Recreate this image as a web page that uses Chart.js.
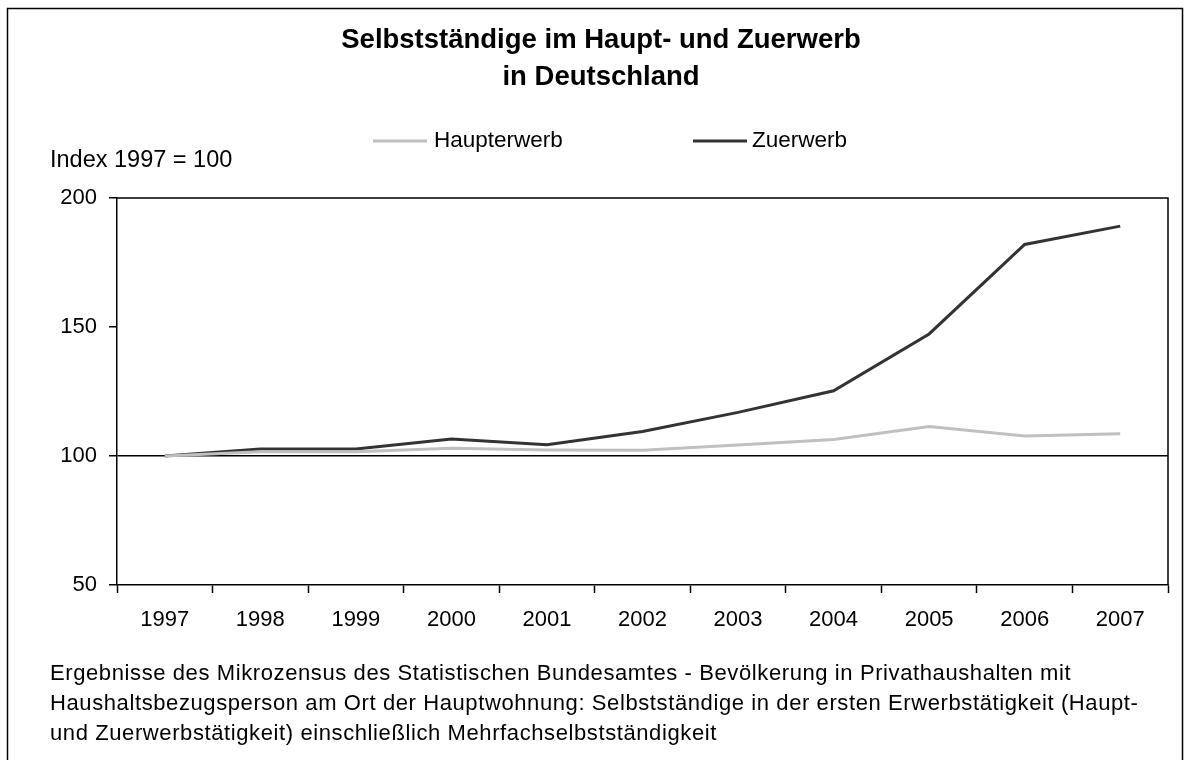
<!DOCTYPE html>
<html>
<head>
<meta charset="utf-8">
<script src="https://cdn.jsdelivr.net/npm/chart.js@4"></script>
<style>
html,body{margin:0;padding:0;background:#fff;}
#wrap{width:1190px;height:760px;}
</style>
</head>
<body>
<div id="wrap"><canvas id="c" width="1190" height="760"></canvas></div>
<script>
const years = ['1997','1998','1999','2000','2001','2002','2003','2004','2005','2006','2007'];
const haupterwerb = [100, 101.6, 101.6, 103.0, 102.3, 102.2, 104.3, 106.4, 111.4, 107.8, 108.6];
const zuerwerb = [100, 102.7, 102.7, 106.6, 104.4, 109.5, 116.9, 125.3, 147.3, 182.0, 189.1];
const titleLines = ['Selbstständige im Haupt- und Zuerwerb', 'in Deutschland'];
const yLabel = 'Index 1997 = 100';
const footLines = [
  'Ergebnisse des Mikrozensus des Statistischen Bundesamtes - Bevölkerung in Privathaushalten mit',
  'Haushaltsbezugsperson am Ort der Hauptwohnung: Selbstständige in der ersten Erwerbstätigkeit (Haupt-',
  'und Zuerwerbstätigkeit) einschließlich Mehrfachselbstständigkeit'
];
const FONT = '"Liberation Sans", Arial, sans-serif';

const decor = {
  id: 'decor',
  beforeDraw(chart) {
    const ctx = chart.ctx;
    ctx.save();
    ctx.fillStyle = '#fff';
    ctx.fillRect(0, 0, chart.width, chart.height);
    ctx.strokeStyle = '#000';
    ctx.lineWidth = 1.5;
    ctx.strokeRect(7.5, 8.5, 1175, 780);
    ctx.restore();
  },
  afterDraw(chart) {
    const ctx = chart.ctx;
    const a = chart.chartArea;
    ctx.save();
    // plot area border top/right
    ctx.strokeStyle = '#000';
    ctx.lineWidth = 1.5;
    ctx.beginPath();
    ctx.moveTo(a.left, a.top);
    ctx.lineTo(a.right, a.top);
    ctx.lineTo(a.right, a.bottom);
    ctx.stroke();
    // title
    ctx.fillStyle = '#000';
    ctx.textAlign = 'center';
    ctx.textBaseline = 'alphabetic';
    ctx.font = 'bold 27.5px ' + FONT;
    ctx.fillText(titleLines[0], 601, 48);
    ctx.fillText(titleLines[1], 601, 85);
    // legend
    ctx.font = '22.5px ' + FONT;
    ctx.textAlign = 'left';
    const ds = chart.data.datasets;
    const legendPos = [[373, 434], [693, 752]];
    ds.forEach((d, i) => {
      ctx.strokeStyle = d.borderColor;
      ctx.lineWidth = 3;
      ctx.beginPath();
      ctx.moveTo(legendPos[i][0], 141);
      ctx.lineTo(legendPos[i][0] + 54, 141);
      ctx.stroke();
      ctx.fillStyle = '#000';
      ctx.fillText(d.label, legendPos[i][1], 147);
    });
    // y label
    ctx.font = '23.5px ' + FONT;
    ctx.fillText(yLabel, 50, 167);
    // footnote
    ctx.font = '22px ' + FONT;
    try { ctx.letterSpacing = '0.6px'; } catch (e) {}
    footLines.forEach((t, i) => ctx.fillText(t, 50, 680 + i * 30));
    ctx.restore();
  }
};

new Chart(document.getElementById('c'), {
  type: 'line',
  data: {
    labels: years,
    datasets: [
      { label: 'Haupterwerb', data: haupterwerb, borderColor: '#c0c0c0', borderWidth: 3, pointRadius: 0, tension: 0, fill: false },
      { label: 'Zuerwerb', data: zuerwerb, borderColor: '#333333', borderWidth: 3, pointRadius: 0, tension: 0, fill: false }
    ]
  },
  options: {
    responsive: false,
    animation: false,
    devicePixelRatio: 1,
    layout: { padding: { left: 0, top: 198, right: 22, bottom: 95 } },
    plugins: { legend: { display: false }, title: { display: false }, tooltip: { enabled: false } },
    scales: {
      x: {
        offset: true,
        grid: { offset: true, drawOnChartArea: false, tickLength: 8, tickColor: '#000', tickWidth: 1.5 },
        border: { color: '#000', width: 1.5 },
        ticks: { color: '#000', font: { family: FONT, size: 22 }, padding: 14, maxRotation: 0 },
        afterFit(s) { s.height = 80; }
      },
      y: {
        min: 50, max: 200,
        ticks: { stepSize: 50, color: '#000', font: { family: FONT, size: 22 }, padding: 12 },
        grid: {
          tickLength: 8, tickColor: '#000', tickWidth: 1.5,
          color: c => (c.tick && c.tick.value === 100) ? '#000' : 'rgba(0,0,0,0)',
          lineWidth: 1.5
        },
        border: { color: '#000', width: 1.5 },
        afterFit(s) { s.width = 117; }
      }
    }
  },
  plugins: [decor]
});
</script>
</body>
</html>
